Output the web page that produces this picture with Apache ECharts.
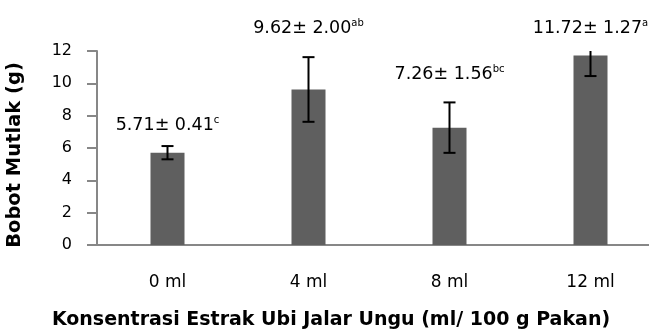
<!DOCTYPE html>
<html>
<head>
<meta charset="utf-8">
<script src="https://cdn.jsdelivr.net/npm/echarts@6/dist/echarts.min.js"></script>
<style>
  html, body { margin: 0; padding: 0; background: #ffffff; overflow: hidden; }
  /* the plot runs a little past the right edge of the page */
  #chart { width: 661px; height: 336px; }
</style>
</head>
<body>
<div id="chart"></div>
<script>
// Treatment groups and measured results
const categories = ['0 ml', '4 ml', '8 ml', '12 ml'];
const means = [5.71, 9.62, 7.26, 11.72];
const sds = [0.41, 2.00, 1.56, 1.27];
const letters = ['c', 'ab', 'bc', 'a'];
const yTicks = { min: 0, max: 12, step: 2 };

// Extra lift of each value label above its bar (pixels)
const labelLift = [17, 51, 43, 17];

const FONT = 'DejaVu Sans';

const fmt = v => v.toFixed(2);

const chart = echarts.init(document.getElementById('chart'), null, { renderer: 'canvas' });

const barData = means.map((m, i) => ({
  value: m,
  label: {
    distance: labelLift[i],
    formatter: '{v|' + fmt(m) + '± ' + fmt(sds[i]) + '}{s|' + letters[i] + '}'
  }
}));

chart.setOption({
  animation: false,
  grid: { left: 97, top: 51, right: 0, bottom: 91 },
  xAxis: {
    type: 'category',
    data: categories,
    axisLine: { lineStyle: { color: '#878787', width: 2 } },
    axisTick: { show: false },
    axisLabel: { margin: 29, fontFamily: FONT, fontSize: 17, color: '#000' }
  },
  yAxis: {
    type: 'value',
    min: yTicks.min,
    max: yTicks.max,
    interval: yTicks.step,
    splitLine: { show: false },
    axisLine: { show: true, lineStyle: { color: '#878787', width: 2 } },
    axisTick: { show: true, length: 10, lineStyle: { color: '#878787', width: 2 } },
    axisLabel: { margin: 25, fontFamily: FONT, fontSize: 16, color: '#000' }
  },
  series: [
    {
      type: 'bar',
      data: barData,
      barWidth: 34,
      itemStyle: { color: '#5f5f5f' },
      label: {
        show: true,
        position: 'top',
        rich: {
          v: { fontFamily: FONT, fontSize: 17.5, color: '#000' },
          s: { fontFamily: FONT, fontSize: 10, color: '#000', padding: [0, 0, 10, 0] }
        }
      }
    },
    {
      // standard-deviation whiskers
      type: 'custom',
      clip: true,
      data: means.map((m, i) => [i, m - sds[i], m + sds[i]]),
      renderItem: function (params, api) {
        const lo = api.coord([api.value(0), api.value(1)]);
        const hi = api.coord([api.value(0), api.value(2)]);
        const half = 6;
        const style = { stroke: '#000', lineWidth: 2 };
        return {
          type: 'group',
          children: [
            { type: 'line', shape: { x1: lo[0], y1: lo[1], x2: hi[0], y2: hi[1] }, style },
            { type: 'line', shape: { x1: lo[0] - half, y1: lo[1], x2: lo[0] + half, y2: lo[1] }, style },
            { type: 'line', shape: { x1: hi[0] - half, y1: hi[1], x2: hi[0] + half, y2: hi[1] }, style }
          ]
        };
      },
      z: 5
    }
  ],
  graphic: [
    {
      type: 'text',
      x: 331, y: 320,
      style: {
        text: 'Konsentrasi Estrak Ubi Jalar Ungu (ml/ 100 g Pakan)',
        fontFamily: FONT, fontSize: 19, fontWeight: 'bold', fill: '#000',
        textAlign: 'center', textVerticalAlign: 'middle'
      }
    },
    {
      type: 'text',
      x: 15, y: 155,
      rotation: Math.PI / 2,
      style: {
        text: 'Bobot Mutlak (g)',
        fontFamily: FONT, fontSize: 19.5, fontWeight: 'bold', fill: '#000',
        textAlign: 'center', textVerticalAlign: 'middle'
      }
    }
  ]
});
</script>
</body>
</html>
